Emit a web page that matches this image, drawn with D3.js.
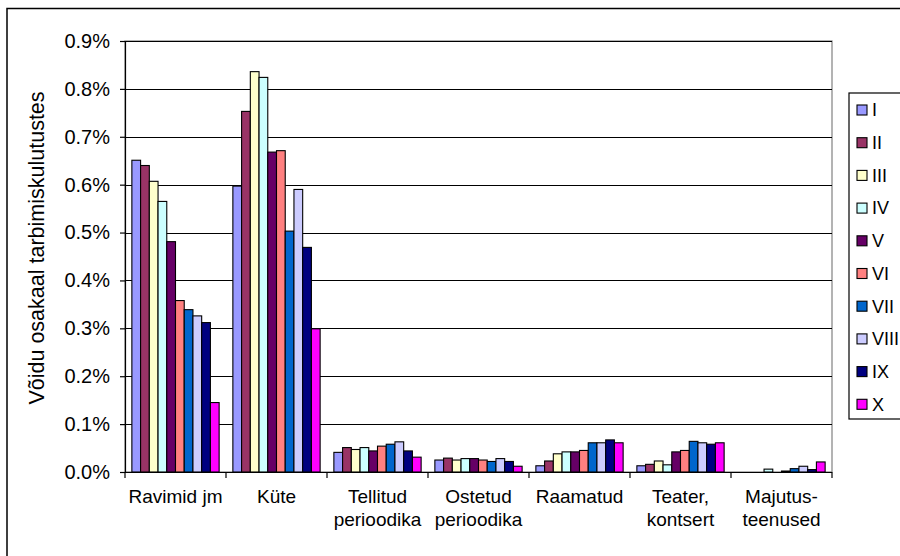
<!DOCTYPE html>
<html><head><meta charset="utf-8">
<script src="https://cdn.jsdelivr.net/npm/d3@7"></script>
<style>
html,body{margin:0;padding:0;background:#fff;}
svg text{font-family:"Liberation Sans",Arial,sans-serif;fill:#000;}
</style></head>
<body>
<svg id="c" width="900" height="556"></svg>
<script>
// ---- data (values in %) ----
const categories = ["Ravimid jm","Küte","Tellitud perioodika","Ostetud perioodika","Raamatud","Teater, kontsert","Majutus-teenused"];
const categoryLines = [["Ravimid jm"],["Küte"],["Tellitud","perioodika"],["Ostetud","perioodika"],["Raamatud"],["Teater,","kontsert"],["Majutus-","teenused"]];
const series = ["I","II","III","IV","V","VI","VII","VIII","IX","X"];
const colors = ["#9999FF","#993366","#FFFFCC","#CCFFFF","#660066","#FF8080","#0066CC","#CCCCFF","#000080","#FF00FF"];
const ravimid  = [0.651,0.640,0.607,0.565,0.481,0.358,0.339,0.326,0.312,0.145];
const kute     = [0.597,0.753,0.836,0.824,0.668,0.671,0.503,0.590,0.469,0.299];
const tellitud = [0.041,0.051,0.047,0.051,0.044,0.054,0.058,0.063,0.044,0.031];
const ostetud  = [0.025,0.029,0.025,0.028,0.028,0.025,0.022,0.028,0.022,0.012];
const raamatud = [0.013,0.023,0.038,0.042,0.042,0.045,0.061,0.061,0.067,0.061];
const teater   = [0.013,0.016,0.023,0.015,0.042,0.045,0.064,0.061,0.058,0.061];
const majutus  = [0,0,0,0.006,0,0.002,0.007,0.012,0.005,0.021];
const yTicks = [0,0.1,0.2,0.3,0.4,0.5,0.6,0.7,0.8,0.9];
const yTitle = "Võidu osakaal tarbimiskulutustes";

const table = [ravimid,kute,tellitud,ostetud,raamatud,teater,majutus].map((vals,i)=>({cat:categories[i],vals}));

const svg = d3.select("#c");
const L=125, R=832, T=41, B=472;
const x0 = d3.scaleBand().domain(categories).range([L,R]).padding(0);
const bw = x0.bandwidth();
const x1 = d3.scaleBand().domain(series).range([bw*0.068, bw*0.932]).padding(0);
const y = d3.scaleLinear().domain([0,0.9]).range([B,T]);
const color = d3.scaleOrdinal().domain(series).range(colors);

// outer frame
svg.append("rect").attr("x",7).attr("y",8.5).attr("width",1000).attr("height",1000)
  .attr("fill","none").attr("stroke","#000").attr("stroke-width",1.5);

// plot border
svg.append("rect").attr("x",L).attr("y",T).attr("width",R-L).attr("height",B-T)
  .attr("fill","none").attr("stroke","#808080").attr("stroke-width",1.2);

// gridlines
svg.append("g").selectAll("line").data(yTicks.filter(d=>d>0)).join("line")
  .attr("x1",L).attr("x2",R).attr("y1",d=>Math.round(y(d))+0.5).attr("y2",d=>Math.round(y(d))+0.5)
  .attr("stroke","#000").attr("stroke-width",1.2);

// y axis
const yAxis = d3.axisLeft(y).tickValues(yTicks).tickFormat(d=>d.toFixed(1)+"%").tickSize(5).tickPadding(10);
const gy = svg.append("g").attr("transform",`translate(${L},0)`).call(yAxis);
gy.select(".domain").attr("stroke","#000").attr("stroke-width",1.2);
gy.selectAll(".tick line").attr("stroke","#000").attr("stroke-width",1.2);
gy.selectAll(".tick text").attr("font-size",20).attr("font-family",'"Liberation Sans",Arial,sans-serif');

// bars
const groups = svg.append("g").selectAll("g").data(table).join("g")
  .attr("transform",d=>`translate(${x0(d.cat)},0)`);
groups.selectAll("rect").data(d=>d.vals.map((v,i)=>({s:series[i],v}))).join("rect")
  .attr("x",d=>x1(d.s)).attr("width",x1.bandwidth())
  .attr("y",d=>y(d.v)).attr("height",d=>Math.max(0,B-y(d.v)))
  .attr("fill",d=>color(d.s)).attr("stroke","#000").attr("stroke-width",1.1)
  .attr("display",d=>d.v>0?null:"none");

// x axis
svg.append("line").attr("x1",L).attr("x2",R).attr("y1",B+0.5).attr("y2",B+0.5)
  .attr("stroke","#000").attr("stroke-width",1.2);
const bounds = categories.map(c=>x0(c)).concat([R]);
svg.append("g").selectAll("line").data(bounds).join("line")
  .attr("x1",d=>d).attr("x2",d=>d).attr("y1",B).attr("y2",B+6)
  .attr("stroke","#000").attr("stroke-width",1.2);

// x labels
const xl = svg.append("g").selectAll("text").data(categories).join("text")
  .attr("x",c=>x0(c)+bw/2).attr("y",503).attr("text-anchor","middle").attr("font-size",19);
xl.each(function(c,i){
  const t=d3.select(this);
  categoryLines[i].forEach((ln,j)=>t.append("tspan").attr("x",x0(c)+bw/2).attr("dy",j?23:0).text(ln));
});

// y title
svg.append("text").attr("transform","translate(44,248) rotate(-90)").attr("text-anchor","middle")
  .attr("font-size",21.5).text(yTitle);

// legend
const lg = svg.append("g");
lg.append("rect").attr("x",849).attr("y",93).attr("width",100).attr("height",326)
  .attr("fill","#fff").attr("stroke","#000").attr("stroke-width",1.2);
const li = lg.selectAll("g").data(series).join("g")
  .attr("transform",(d,i)=>`translate(857,${110+i*32.7})`);
li.append("rect").attr("x",0).attr("y",-5).attr("width",10).attr("height",10)
  .attr("fill",d=>color(d)).attr("stroke","#000").attr("stroke-width",1.1);
li.append("text").attr("x",15).attr("y",0).attr("dy","0.35em").attr("font-size",18).text(d=>d);
</script>
</body></html>
